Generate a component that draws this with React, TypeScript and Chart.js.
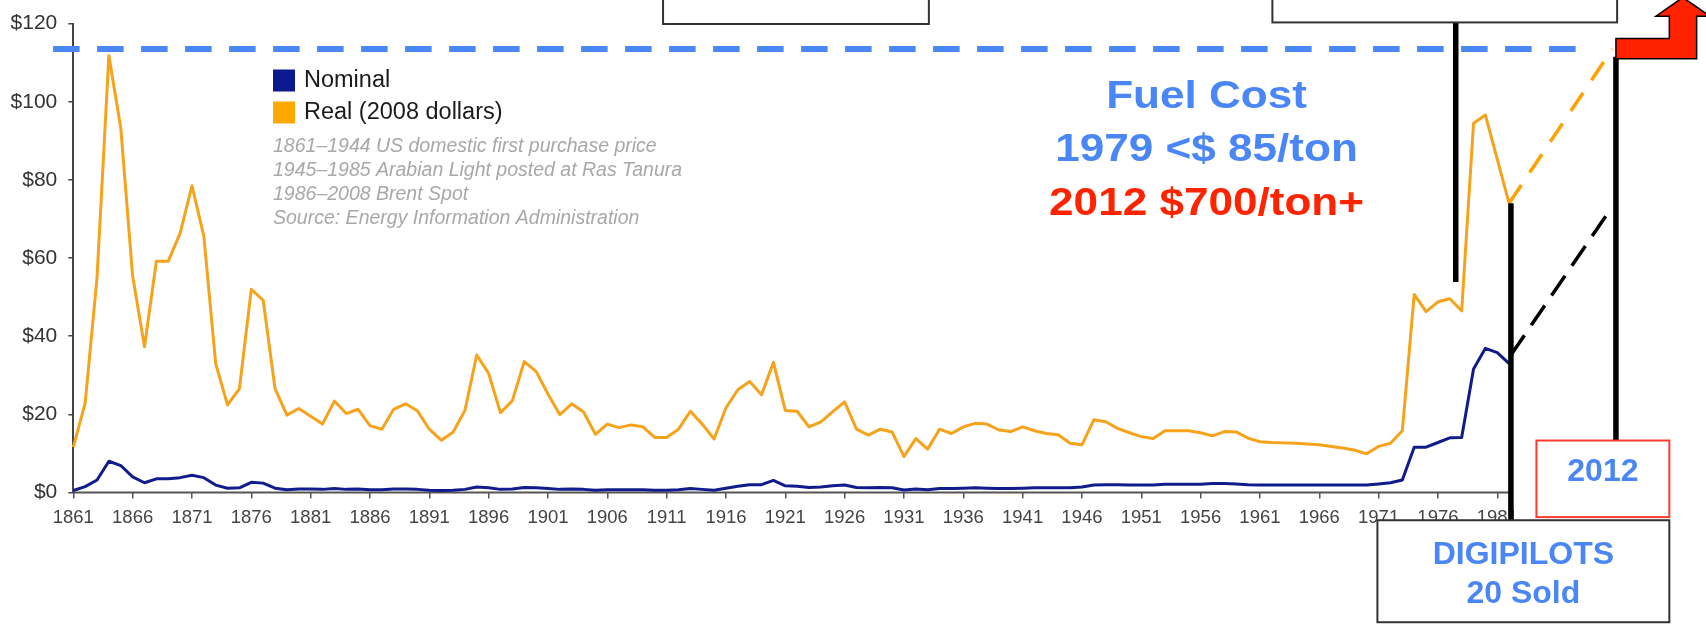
import React, { useEffect, useRef } from 'react';
import { Chart, registerables } from 'chart.js';

Chart.register(...registerables);

// ---------------- data ----------------
const FIRST_YEAR = 1861;
const LAST_YEAR = 1982;
const YEARS: number[] = [];
for (let yr = FIRST_YEAR; yr <= LAST_YEAR; yr++) YEARS.push(yr);

// Real (2008 dollars), one value per year 1861..1982 (1981 not plotted)
const REAL: (number | null)[] = [
  11.6, 22.9, 55, 111.8, 93.3, 55.4, 37.3, 59.2, 59.2, 66.3,
  78.5, 65.6, 33, 22.4, 26.6, 52, 49.2, 26.6, 19.8, 21.5,
  19.5, 17.5, 23.4, 20.2, 21.3, 17.1, 16.2, 21.3, 22.7, 20.9,
  16.2, 13.4, 15.4, 21, 35.2, 30.5, 20.4, 23.5, 33.5, 31,
  25.2, 19.9, 22.7, 20.6, 14.9, 17.5, 16.6, 17.3, 16.8, 14.1,
  14.1, 16.2, 20.8, 17.5, 13.7, 21.7, 26.3, 28.4, 25, 33.3,
  21, 20.8, 16.8, 18.1, 20.7, 23.2, 16.2, 14.7, 16.2, 15.5,
  9.2, 13.8, 11.1, 16.2, 15.1, 16.8, 17.7, 17.5, 16, 15.6,
  16.8, 15.8, 15.1, 14.8, 12.6, 12.2, 18.6, 18.1, 16.4, 15.3,
  14.3, 13.8, 15.8, 15.8, 15.8, 15.3, 14.5, 15.6, 15.5, 13.9,
  13, 12.8, 12.7, 12.6, 12.4, 12.2, 11.8, 11.4, 10.8, 9.9,
  11.8, 12.6, 15.8, 50.7, 46.3, 48.8, 49.6, 46.5, 94.5, 96.6,
  null, 74,
];

// Nominal dollars, 1861..1982
const NOMINAL: number[] = [
  0.5, 1.5, 3.2, 8.0, 6.9, 4.0, 2.5, 3.5, 3.5, 3.8,
  4.4, 3.8, 1.9, 1.1, 1.2, 2.6, 2.4, 1.1, 0.7, 0.9,
  0.9, 0.8, 1.0, 0.8, 0.9, 0.7, 0.7, 0.9, 0.9, 0.8,
  0.6, 0.5, 0.6, 0.8, 1.4, 1.2, 0.8, 0.9, 1.3, 1.2,
  1.0, 0.8, 0.9, 0.8, 0.6, 0.7, 0.7, 0.7, 0.7, 0.6,
  0.6, 0.7, 1.0, 0.8, 0.6, 1.1, 1.6, 2.0, 2.0, 3.1,
  1.7, 1.6, 1.3, 1.4, 1.7, 1.9, 1.3, 1.2, 1.3, 1.2,
  0.65, 0.9, 0.7, 1.0, 1.0, 1.1, 1.2, 1.1, 1.0, 1.0,
  1.1, 1.2, 1.2, 1.2, 1.2, 1.4, 1.9, 2.0, 2.0, 1.9,
  1.9, 1.9, 2.1, 2.1, 2.1, 2.1, 2.3, 2.3, 2.2, 2.0,
  1.9, 1.9, 1.9, 1.9, 1.9, 1.9, 1.9, 1.9, 1.9, 1.9,
  2.2, 2.5, 3.2, 11.6, 11.6, 12.8, 14.0, 14.1, 31.6, 36.9,
  35.8, 33.0,
];

const X_TICKS: number[] = [
  1861, 1866, 1871, 1876, 1881, 1886, 1891, 1896, 1901, 1906, 1911, 1916, 1921,
  1926, 1931, 1936, 1941, 1946, 1951, 1956, 1961, 1966, 1971, 1976, 1981,
];
const Y_TICKS: number[] = [0, 20, 40, 60, 80, 100, 120];

// annotation geometry, in chart units (years / dollars)
const X_MAX = 1998;
const X_AXIS_END = 1982.15;
const TARGET_PRICE = 113.5;
const TARGET_SPAN: number[] = [1859.3, 1987.7];
const PROJ_YEAR = 1990.7; // position at which "2012" is drawn
const REAL_PROJ_Y: number[] = [74, 113.5];
const NOMINAL_PROJ_Y: number[] = [35.2, 73.2];
const MARKER_A: number[] = [1977.5, 120.4, 53.9];
const MARKER_B: number[] = [1982.15, 74, -7.1];
const MARKER_C: number[] = [1991.0, 111.5, 13.3];

const BOX_TOP_1: number[] = [1910.7, 1933.1, 130, 119.9];
const BOX_TOP_2: number[] = [1962.05, 1991.1, 130, 120.3];
const BOX_2012: number[] = [1984.3, 1995.5, 13.3, -6.3];
const BOX_DIGI: number[] = [1970.9, 1995.5, -7.1, -33.2];
const ARROW: number[][] = [
  [1991.0, 116.2], [1995.5, 116.2], [1995.5, 121.9], [1994.37, 121.9],
  [1996.64, 126.7], [1998.91, 121.9], [1997.8, 121.9], [1997.8, 111.0], [1991.0, 111.0],
];
const FUEL_X = 1956.5;
const FUEL_LINES: { text: string; y: number; color: string }[] = [
  { text: 'Fuel Cost', y: 98.3, color: '#4A86F5' },
  { text: '1979 <$ 85/ton', y: 84.8, color: '#4A86F5' },
  { text: '2012 $700/ton+', y: 70.9, color: '#FF2400' },
];
const NOTES: string[] = [
  '1861\u20131944 US domestic first purchase price',
  '1945\u20131985 Arabian Light posted at Ras Tanura',
  '1986\u20132008 Brent Spot',
  'Source: Energy Information Administration',
];

// ---------------- styles ----------------
const FONT = "'Liberation Sans', Arial, Helvetica, sans-serif";
const REAL_COLOR = '#F7A21B';
const NOMINAL_COLOR = '#101C8C';
const BLUE = '#4A86F5';

const annotationPlugin = {
  id: 'fuelAnnotations',
  beforeDatasetsDraw(chart: any) {
    const { ctx } = chart;
    const xs = chart.scales.x;
    const ys = chart.scales.y;
    ctx.save();
    ctx.strokeStyle = '#555';
    ctx.lineWidth = 2;
    ctx.beginPath();
    ctx.moveTo(xs.getPixelForValue(FIRST_YEAR), ys.getPixelForValue(0));
    ctx.lineTo(xs.getPixelForValue(X_AXIS_END), ys.getPixelForValue(0));
    ctx.stroke();
    ctx.restore();
  },
  afterDraw(chart: any) {
    const { ctx } = chart;
    const xs = chart.scales.x;
    const ys = chart.scales.y;
    const px = (v: number) => xs.getPixelForValue(v);
    const py = (v: number) => ys.getPixelForValue(v);

    const box = (b: number[], stroke: string) => {
      const x1 = px(b[0]);
      const x2 = px(b[1]);
      const y1 = py(b[2]);
      const y2 = py(b[3]);
      ctx.fillStyle = '#fff';
      ctx.fillRect(x1, y1, x2 - x1, y2 - y1);
      ctx.strokeStyle = stroke;
      ctx.lineWidth = 2;
      ctx.strokeRect(x1, y1, x2 - x1, y2 - y1);
      return { x1, x2, y1, y2 };
    };

    ctx.save();
    box(BOX_TOP_1, '#333');
    box(BOX_TOP_2, '#333');
    const b12 = box(BOX_2012, '#FF3B2F');
    const bd = box(BOX_DIGI, '#333');

    ctx.fillStyle = BLUE;
    ctx.textAlign = 'center';
    ctx.textBaseline = 'alphabetic';
    ctx.font = `bold 32px ${FONT}`;
    ctx.fillText('2012', (b12.x1 + b12.x2) / 2, b12.y1 + 40);
    ctx.fillText('DIGIPILOTS', (bd.x1 + bd.x2) / 2, bd.y1 + 43.3);
    ctx.fillText('20 Sold', (bd.x1 + bd.x2) / 2, bd.y1 + 82.6);

    // red bent arrow
    ctx.beginPath();
    ARROW.forEach((p, i) => {
      if (i === 0) ctx.moveTo(px(p[0]), py(p[1]));
      else ctx.lineTo(px(p[0]), py(p[1]));
    });
    ctx.closePath();
    ctx.fillStyle = '#FF2200';
    ctx.fill();
    ctx.strokeStyle = '#000';
    ctx.lineWidth = 1.5;
    ctx.stroke();

    // legend
    ctx.fillStyle = '#0B1A8F';
    ctx.fillRect(273, 69.5, 22, 22);
    ctx.fillStyle = '#FFA800';
    ctx.fillRect(273, 101.5, 22, 22);
    ctx.fillStyle = '#1a1a1a';
    ctx.textAlign = 'left';
    ctx.textBaseline = 'middle';
    ctx.font = `23.5px ${FONT}`;
    ctx.fillText('Nominal', 304, 81);
    ctx.fillText('Real (2008 dollars)', 304, 113);

    // source notes
    ctx.fillStyle = '#A8A8A8';
    ctx.font = `italic 19.5px ${FONT}`;
    NOTES.forEach((t, i) => ctx.fillText(t, 273, 146.7 + i * 23.9));

    // fuel cost text
    ctx.font = `bold 38px ${FONT}`;
    ctx.textAlign = 'center';
    ctx.textBaseline = 'alphabetic';
    FUEL_LINES.forEach((l) => {
      ctx.save();
      ctx.translate(px(FUEL_X), py(l.y));
      ctx.scale(1.16, 1);
      ctx.fillStyle = l.color;
      ctx.fillText(l.text, 0, 0);
      ctx.restore();
    });
    ctx.restore();
  },
};

const seg = (pts: number[][]) => pts.map((p) => ({ x: p[0], y: p[1] }));

export default function App() {
  const ref = useRef<HTMLCanvasElement>(null);

  useEffect(() => {
    const canvas = ref.current;
    if (!canvas) return;
    const lineBase = { pointRadius: 0, fill: false, tension: 0, clip: false as any };
    const chart = new Chart(canvas, {
      type: 'line',
      data: {
        datasets: [
          { ...lineBase, label: 'mA', data: seg([[MARKER_A[0], MARKER_A[1]], [MARKER_A[0], MARKER_A[2]]]), borderColor: '#000', borderWidth: 5.5, borderCapStyle: 'butt' },
          { ...lineBase, label: 'mB', data: seg([[MARKER_B[0], MARKER_B[1]], [MARKER_B[0], MARKER_B[2]]]), borderColor: '#000', borderWidth: 5.5, borderCapStyle: 'butt' },
          { ...lineBase, label: 'mC', data: seg([[MARKER_C[0], MARKER_C[1]], [MARKER_C[0], MARKER_C[2]]]), borderColor: '#000', borderWidth: 5.5, borderCapStyle: 'butt' },
          { ...lineBase, label: 'nominalProj', data: seg([[X_AXIS_END, NOMINAL_PROJ_Y[0]], [PROJ_YEAR, NOMINAL_PROJ_Y[1]]]), borderColor: '#000', borderWidth: 3.5, borderDash: [24, 12] },
          { ...lineBase, label: 'realProj', data: seg([[LAST_YEAR, REAL_PROJ_Y[0]], [PROJ_YEAR, REAL_PROJ_Y[1]]]), borderColor: '#FFA200', borderWidth: 3.5, borderDash: [22, 15] },
          { ...lineBase, label: 'target', data: seg([[TARGET_SPAN[0], TARGET_PRICE], [TARGET_SPAN[1], TARGET_PRICE]]), borderColor: BLUE, borderWidth: 6, borderDash: [26.5, 17.5], borderCapStyle: 'butt' },
          { ...lineBase, label: 'Nominal', data: YEARS.map((yr, i) => ({ x: yr, y: NOMINAL[i] })), borderColor: NOMINAL_COLOR, borderWidth: 3, borderJoinStyle: 'round', clip: 0 as any },
          { ...lineBase, label: 'Real (2008 dollars)', data: YEARS.map((yr, i) => ({ x: yr, y: REAL[i] as any })), borderColor: REAL_COLOR, borderWidth: 3, borderJoinStyle: 'round', spanGaps: true, clip: false as any },
        ] as any,
      },
      options: {
        responsive: false,
        animation: false,
        devicePixelRatio: 1,
        events: [],
        layout: { padding: { top: 17.3, right: 7, left: 0, bottom: 0 } },
        plugins: { legend: { display: false }, tooltip: { enabled: false } },
        scales: {
          x: {
            type: 'linear',
            min: FIRST_YEAR,
            max: X_MAX,
            afterFit: (s: any) => { s.height = 133.5; },
            afterBuildTicks: (s: any) => { s.ticks = X_TICKS.map((v) => ({ value: v })); },
            ticks: {
              autoSkip: false,
              maxRotation: 0,
              minRotation: 0,
              padding: 8,
              color: '#444',
              font: { family: FONT, size: 18.5 },
              callback: (v: any) => String(v),
            },
            grid: { drawOnChartArea: false, drawTicks: true, tickLength: 6, color: '#555', lineWidth: 1.5 },
            border: { display: false },
          },
          y: {
            type: 'linear',
            min: 0,
            max: 120,
            afterFit: (s: any) => { s.width = 73.3; },
            afterBuildTicks: (s: any) => { s.ticks = Y_TICKS.map((v) => ({ value: v })); },
            ticks: {
              padding: 11,
              color: '#333',
              font: { family: FONT, size: 21 },
              callback: (v: any) => '$' + v,
            },
            grid: { drawOnChartArea: false, drawTicks: true, tickLength: 5, color: '#444', lineWidth: 1.5 },
            border: { display: true, color: '#444', width: 2 },
          },
        },
      } as any,
      plugins: [annotationPlugin as any],
    });
    return () => chart.destroy();
  }, []);

  return (
    <div style={{ position: 'fixed', left: 0, top: 0, width: 1706, height: 626, background: '#fff' }}>
      <canvas ref={ref} width={1706} height={626} style={{ display: 'block' }} />
    </div>
  );
}
